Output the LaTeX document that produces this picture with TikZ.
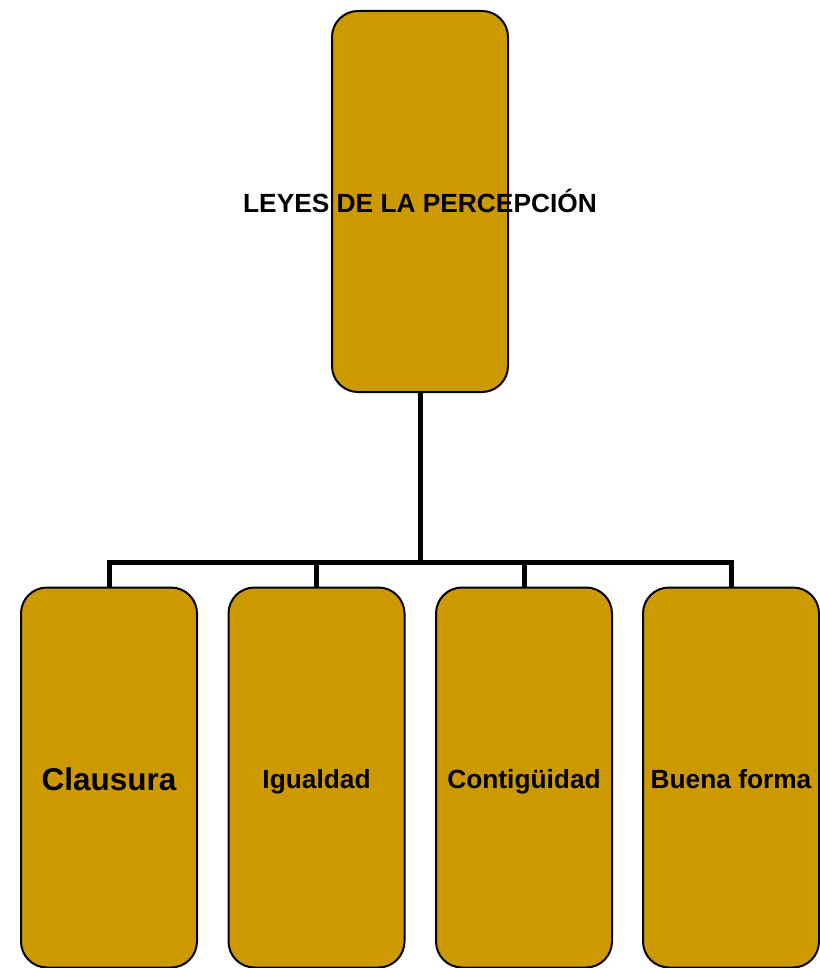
\documentclass[tikz,border=0pt]{standalone}
\usepackage{fontspec}
\setmainfont{Liberation Sans}
\definecolor{ocre}{RGB}{204,153,0}
\begin{document}
\begin{tikzpicture}[x=1pt,y=-1pt,font=\bfseries\fontsize{26.3}{30}\selectfont,
  caja/.style={draw=black,fill=ocre,line width=2pt,rounded corners=26pt,
    minimum width=176pt,minimum height=380pt,inner sep=0pt},
  texto/.style={text height=18.8pt,text depth=0pt,inner sep=0pt,yshift=-2pt},
  rama/.style={line width=5pt}]
  \useasboundingbox (0,0) rectangle (819,968);
  \node [caja,minimum height=381pt,label={[texto,name=titulo]center:LEYES DE LA PERCEPCIÓN}] (leyes) at (420,201.5) {};
  \node [caja,label={[texto,name=clausura label,text height=22.6pt,font=\bfseries\fontsize{31.5}{36}\selectfont]center:Clausura}] (clausura) at (109,777.5) {};
  \node [caja,label={[texto,name=igualdad label]center:Igualdad}] (igualdad) at (316.5,777.5) {};
  \node [caja,label={[texto,name=contiguidad label]center:Contigüidad}] (contiguidad) at (524,777.5) {};
  \node [caja,label={[texto,name=buena label]center:Buena forma}] (buena) at (731,777.5) {};
  \coordinate (bus) at (420,562);
  \draw [rama] (leyes.south) -- (bus);
  \foreach \hijo in {clausura,igualdad,contiguidad,buena}
    \draw [rama] (bus) -| (\hijo.north);
\end{tikzpicture}
\end{document}
